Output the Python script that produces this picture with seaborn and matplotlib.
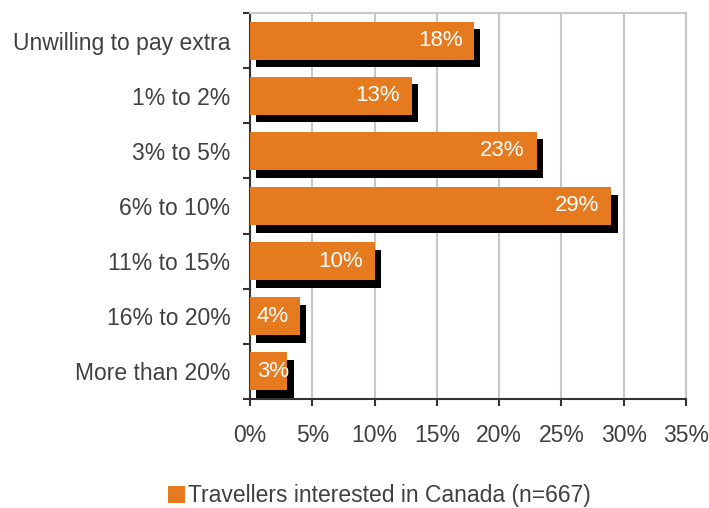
import matplotlib
matplotlib.use("Agg")
import matplotlib.pyplot as plt
import matplotlib.patheffects as pe
from matplotlib.patches import Patch
from matplotlib.ticker import FixedLocator
import seaborn as sns
import pandas as pd

categories = ["Unwilling to pay extra", "1% to 2%", "3% to 5%", "6% to 10%",
              "11% to 15%", "16% to 20%", "More than 20%"]
values = [18, 13, 23, 29, 10, 4, 3]
x_ticks = [0, 5, 10, 15, 20, 25, 30, 35]
series_name = "Travellers interested in Canada (n=667)"

ORANGE = "#E57A1F"
TEXT = "#404040"
GRID = "#C8C8C8"
FS = 16.5

sns.set_theme(style="white")
plt.rcParams["font.family"] = ["Liberation Sans", "DejaVu Sans"]

df = pd.DataFrame({"category": categories, "value": values})

fig = plt.figure(figsize=(7.09, 5.08), dpi=100)
ax = fig.add_axes([0.3526, 0.2146, 0.6150, 0.7598])

sns.barplot(data=df, y="category", x="value", orient="h", color=ORANGE,
            width=0.69, saturation=1, ax=ax, zorder=3)

for bar in ax.patches:
    bar.set_edgecolor("none")
    bar.set_path_effects([
        pe.SimplePatchShadow(offset=(4.5, -5.5), shadow_rgbFace="black", alpha=1.0),
        pe.Normal(),
    ])

# value labels inside the bar ends; short bars keep the label at the base
for i, v in enumerate(values):
    if v >= 5:
        ax.annotate(f"{v}%", xy=(v, i), xytext=(-8.5, 0), textcoords="offset points",
                    ha="right", va="center", color="white", fontsize=16, zorder=5)
    else:
        ax.annotate(f"{v}%", xy=(0, i), xytext=(5, 0), textcoords="offset points",
                    ha="left", va="center", color="white", fontsize=16, zorder=5)

ax.set_xlim(0, 35)
ax.set_ylim(len(categories) - 0.5, -0.5)
ax.set_xticks(x_ticks)
ax.set_xticklabels([f"{t}%" for t in x_ticks])
ax.set_xlabel("")
ax.set_ylabel("")

ax.grid(axis="x", color=GRID, linewidth=1.5, zorder=0)
ax.grid(axis="y", visible=False)
ax.set_axisbelow(True)

for side in ["left", "bottom"]:
    ax.spines[side].set_color("#333333")
    ax.spines[side].set_linewidth(1.5)
for side in ["top", "right"]:
    ax.spines[side].set_color(GRID)
    ax.spines[side].set_linewidth(1.5)

ax.yaxis.set_minor_locator(FixedLocator([k - 0.5 for k in range(len(categories) + 1)]))
ax.tick_params(axis="y", which="major", length=0, pad=14, labelsize=FS, labelcolor=TEXT)
ax.tick_params(axis="y", which="minor", length=5, width=1.5, color="#333333", direction="out")
ax.tick_params(axis="x", which="major", length=5, width=1.5, color="#333333",
               direction="out", pad=13, labelsize=FS, labelcolor=TEXT)
ax.tick_params(left=True, bottom=True, which="both")
ax.tick_params(axis="y", which="major", left=False)

fig.legend(handles=[Patch(facecolor=ORANGE, edgecolor="none", label=series_name)],
           loc="center", bbox_to_anchor=(0.535, 0.024), frameon=False,
           fontsize=FS, labelcolor=TEXT, handlelength=0.75, handleheight=0.75,
           handletextpad=0.15, borderaxespad=0)

fig.savefig("out.png", dpi=100)
